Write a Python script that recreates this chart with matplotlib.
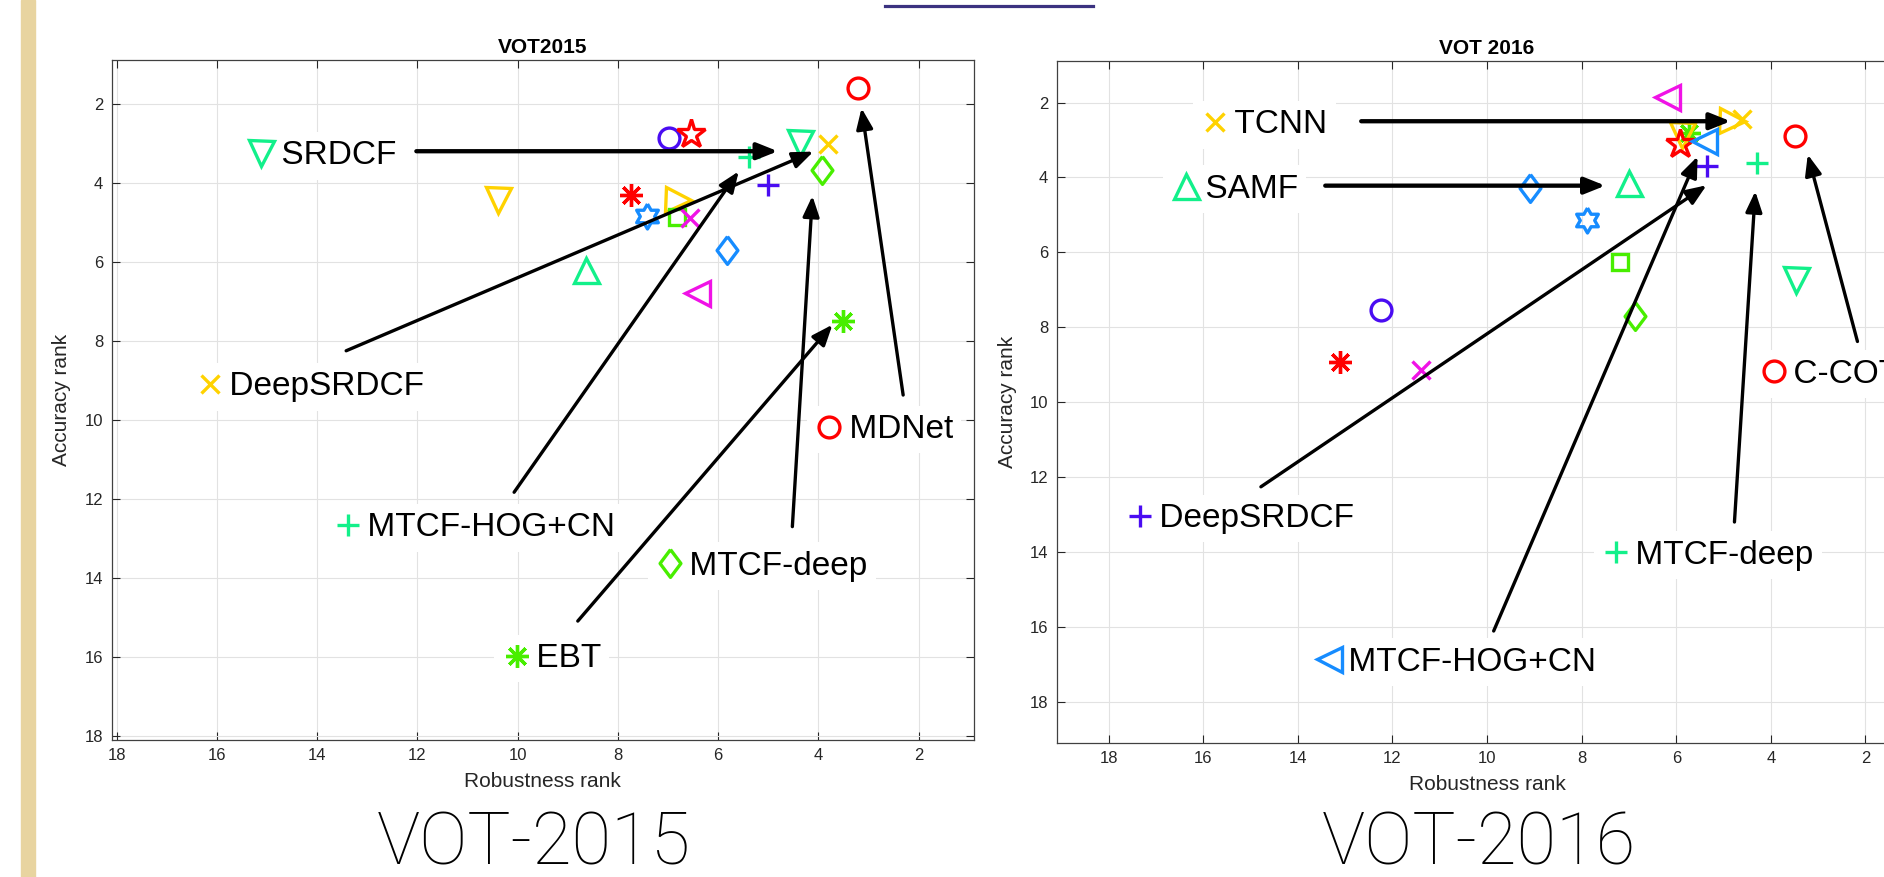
"""VOT2015 / VOT2016 accuracy-robustness rank plots"""

import numpy as np
import matplotlib
matplotlib.use("Agg")
import matplotlib.pyplot as plt
from matplotlib.lines import Line2D
from matplotlib.patches import Rectangle

plt.rcParams['font.family'] = ['Liberation Sans', 'DejaVu Sans']

RED = '#ff0000'
YEL = '#ffd200'
SPR = '#12f08a'
GRN = '#48ee00'
AZU = '#168cff'
VIO = '#4a0cf2'
MAG = '#f012e6'

# ---- VOT2015: robustness rank (x), accuracy rank (y)
rob15 = [3.22, 6.98, 6.54, 4.36, 3.81, 5.39, 3.93, 5.00, 10.40, 7.73,
         6.81, 7.41, 6.82, 6.56, 5.83, 8.64, 6.43, 3.50]
acc15 = [1.60, 2.87, 2.76, 2.98, 3.01, 3.35, 3.67, 4.05, 4.43, 4.31,
         4.43, 4.85, 4.87, 4.90, 5.71, 6.20, 6.78, 7.49]
mk15 = ['o', 'o', 'p', 'v', 'x', '+', 'd', '+', 'v', '*',
        '>', 'h', 's', 'x', 'd', '^', '<', '*']
col15 = [RED, VIO, RED, SPR, YEL, SPR, GRN, VIO, YEL, RED,
         YEL, AZU, GRN, MAG, AZU, SPR, MAG, GRN]

lab15 = ['SRDCF', 'DeepSRDCF', 'MDNet', 'MTCF-HOG+CN', 'MTCF-deep', 'EBT']
lab15_mk = ['v', 'x', 'o', '+', 'd', '*']
lab15_col = [SPR, YEL, RED, SPR, GRN, GRN]
lab15_x = [15.11, 16.13, 3.78, 13.39, 6.96, 10.02]
lab15_y = [3.25, 9.09, 10.17, 12.66, 13.63, 15.97]
# arrows, tail -> head
arr15_from = [(12.02, 3.20), (13.42, 8.25), (10.07, 11.83), (4.52, 12.70), (8.80, 15.09), (2.31, 9.37)]
arr15_to = [(4.81, 3.20), (4.10, 3.21), (5.59, 3.71), (4.12, 4.33), (3.72, 7.59), (3.14, 2.11)]
arr15_thick = [True, False, False, False, False, False]

# ---- VOT2016
rob16 = [6.20, 4.82, 4.61, 5.74, 5.88, 5.92, 5.42, 5.34, 4.29, 3.50,
         9.10, 7.00, 7.88, 7.20, 3.47, 12.25, 6.87, 13.11, 11.40]
acc16 = [1.85, 2.50, 2.44, 2.81, 2.88, 3.12, 3.02, 3.70, 3.61, 2.90,
         4.28, 4.15, 5.15, 6.27, 6.73, 7.53, 7.70, 8.93, 9.14]
mk16 = ['<', '>', 'x', '*', 'v', 'p', '<', '+', '+', 'o',
        'd', '^', 'h', 's', 'v', 'o', 'd', '*', 'x']
col16 = [MAG, YEL, YEL, GRN, YEL, RED, AZU, VIO, SPR, RED,
         AZU, SPR, AZU, GRN, SPR, VIO, GRN, RED, MAG]

lab16 = ['TCNN', 'SAMF', 'C-COT', 'DeepSRDCF', 'MTCF-deep', 'MTCF-HOG+CN']
lab16_mk = ['x', '^', 'o', '+', '+', '<']
lab16_col = [YEL, SPR, RED, VIO, SPR, AZU]
lab16_x = [15.75, 16.37, 3.93, 17.34, 7.27, 13.35]
lab16_y = [2.52, 4.24, 9.18, 13.03, 14.01, 16.87]
arr16_from = [(12.66, 2.50), (13.42, 4.22), (14.78, 12.26), (9.86, 16.11), (4.77, 13.20), (2.17, 8.38)]
arr16_to = [(4.85, 2.50), (7.50, 4.22), (5.36, 4.21), (5.55, 3.44), (4.33, 4.37), (3.22, 3.39)]
arr16_thick = [True, True, False, False, False, False]


def hexagram():
    k = np.arange(13)
    ang = np.deg2rad(90 + 30 * k)
    r = np.where(k % 2 == 0, 1.0, 0.577)
    return np.column_stack([r * np.cos(ang), r * np.sin(ang)])


diamond = np.array([[0, 1], [0.75, 0], [0, -1], [-0.75, 0], [0, 1]])

MARKERS = {
    'o': ('o', 15), 'p': ('*', 21), 'v': ('v', 18), '^': ('^', 18),
    '<': ('<', 18), '>': ('>', 18), 'x': ('x', 13), '+': ('+', 15.5),
    'd': (diamond, 20), '*': ((8, 2, 0), 16.5), 'h': (hexagram(), 18),
    's': ('s', 11.5),
}


def put_marker(ax, x, y, m, c, z=3):
    shape, size = MARKERS[m]
    ax.plot(x, y, linestyle='none', marker=shape, ms=size, mfc='none',
            mec=c, mew=2.4, zorder=z, clip_on=False)


def setup(ax, title, xlim, ylim):
    ax.set_xlim(*xlim)
    ax.set_ylim(*ylim)
    ax.set_xticks(range(2, 19, 2))
    ax.set_yticks(range(2, 19, 2))
    ax.grid(True, color='#e2e2e2', lw=0.8, zorder=0)
    ax.set_axisbelow(True)
    ax.tick_params(direction='in', top=True, right=True, length=6,
                   width=0.8, labelsize=12, colors='#262626', pad=6)
    for s in ax.spines.values():
        s.set_color('#404040')
        s.set_linewidth(0.9)
    ax.set_title(title, fontsize=15, fontweight='bold', pad=5)
    ax.set_xlabel('Robustness rank', fontsize=15, color='#262626')
    ax.set_ylabel('Accuracy rank', fontsize=15, color='#262626')
    ax.xaxis.set_label_coords(0.5, -0.061)
    ax.xaxis.label.set_va('center')
    ax.yaxis.set_label_coords(-0.0575, 0.5)
    ax.yaxis.label.set_va('center')


def draw(ax, rob, acc, mk, col, labs, lmk, lcol, lx, ly, afrom, ato, athick):
    for x, y, m, c in zip(rob, acc, mk, col):
        put_marker(ax, x, y, m, c)
    for (x0, y0), (x1, y1), thick in zip(afrom, ato, athick):
        ax.annotate('', xy=(x1, y1), xytext=(x0, y0),
                    arrowprops=dict(arrowstyle='-|>,head_length=1.25,head_width=0.5',
                                    mutation_scale=10, lw=3.1 if thick else 2.4,
                                    color='black', shrinkA=0, shrinkB=0),
                    zorder=4)
    for name, m, c, x, y in zip(labs, lmk, lcol, lx, ly):
        ax.annotate('\u2003' + name, xy=(x, y), xytext=(-10, -2),
                    textcoords='offset points', ha='left', va='center',
                    fontsize=24, color='black', zorder=5, annotation_clip=False,
                    bbox=dict(boxstyle='square,pad=0.25', fc='white', ec='none'))
        put_marker(ax, x, y, m, c, z=6)


fig = plt.figure(figsize=(18.84, 8.77), dpi=100)

ax1 = fig.add_axes([0.0592, 0.1562, 0.4577, 0.775])
setup(ax1, 'VOT2015', (18.1, 0.9), (18.1, 0.9))
draw(ax1, rob15, acc15, mk15, col15, lab15, lab15_mk, lab15_col,
     lab15_x, lab15_y, arr15_from, arr15_to, arr15_thick)

ax2 = fig.add_axes([0.5608, 0.1528, 0.457, 0.7773])
setup(ax2, 'VOT 2016', (19.1, 0.9), (19.1, 0.9))
draw(ax2, rob16, acc16, mk16, col16, lab16, lab16_mk, lab16_col,
     lab16_x, lab16_y, arr16_from, arr16_to, arr16_thick)

# slide decorations
fig.add_artist(Rectangle((21.3 / 1884, 0), 13.4 / 1884, 1, transform=fig.transFigure,
                         color='#e8d4a0', zorder=10))
fig.add_artist(Line2D([885 / 1884, 1093 / 1884], [1 - 6 / 877, 1 - 6 / 877],
                      transform=fig.transFigure, color='#3b3280', lw=2.3))

fig.text(0.2836, 0.014, 'VOT-2015', ha='center', va='baseline', fontsize=52,
         family=['Roboto', 'DejaVu Sans'], fontweight='light')
fig.text(0.7848, 0.014, 'VOT-2016', ha='center', va='baseline', fontsize=52,
         family=['Roboto', 'DejaVu Sans'], fontweight='light')

fig.savefig('out.png', dpi=100)
